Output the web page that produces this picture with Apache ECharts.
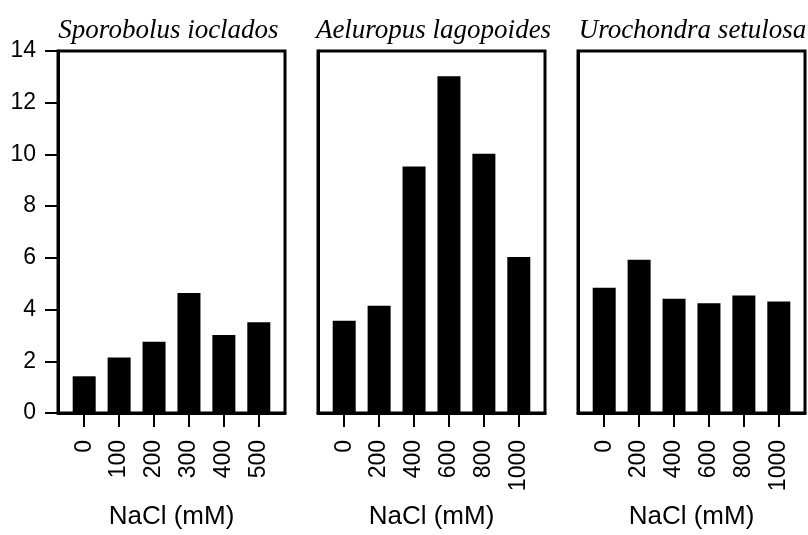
<!DOCTYPE html>
<html><head><meta charset="utf-8">
<script src="https://cdn.jsdelivr.net/npm/echarts@6/dist/echarts.min.js"></script>
<style>html,body{margin:0;padding:0;background:#fff}#c{width:808px;height:535px}</style>
</head><body><div id="c"></div>
<script>
const titles = ['Sporobolus ioclados', 'Aeluropus lagopoides', 'Urochondra setulosa'];
const cats1 = ['0', '100', '200', '300', '400', '500'];
const cats2 = ['0', '200', '400', '600', '800', '1000'];
const cats3 = ['0', '200', '400', '600', '800', '1000'];
const vals1 = [1.42, 2.15, 2.76, 4.64, 3.02, 3.51];
const vals2 = [3.57, 4.15, 9.53, 13.02, 10.03, 6.03];
const vals3 = [4.84, 5.93, 4.42, 4.24, 4.54, 4.31];
const yTicks = [0, 2, 4, 6, 8, 10, 12, 14];
const xName = 'NaCl (mM)';

const cats = [cats1, cats2, cats3];
const vals = [vals1, vals2, vals3];
const lefts = [58, 318, 578];
const titleShift = [-8, -3, -4];
const W = 227;
const chart = echarts.init(document.getElementById('c'));
const grid = [], xAxis = [], yAxis = [], series = [], title = [];
for (let k = 0; k < 3; k++) {
  grid.push({left: lefts[k], width: W, top: 51, height: 364, show: true,
    borderColor: '#000', borderWidth: 3});
  title.push({text: titles[k], left: lefts[k] + W / 2 + titleShift[k], top: 12, textAlign: 'center',
    textStyle: {fontFamily: 'Liberation Serif', fontStyle: 'italic', fontWeight: 'normal', fontSize: 27, color: '#000'}});
  const c = cats[k];
  xAxis.push({type: 'value', gridIndex: k, min: -0.75, max: 5.75,
    splitLine: {show: false},
    axisLine: {show: true, onZero: false, lineStyle: {color: '#000', width: 3}},
    axisTick: {show: true, length: 14, lineStyle: {color: '#000', width: 2}, customValues: [0,1,2,3,4,5]},
    axisLabel: {show: true, rotate: 90, margin: 8, padding: [0, 19, 0, 0],
      fontFamily: 'Liberation Sans', fontSize: 23, color: '#000',
      customValues: [0,1,2,3,4,5], formatter: v => c[Math.round(v)]},
    name: xName, nameLocation: 'middle', nameGap: 91,
    nameTextStyle: {fontFamily: 'Liberation Sans', fontSize: 26, color: '#000'}});
  yAxis.push({type: 'value', gridIndex: k, min: 0, max: 14, interval: 2,
    splitLine: {show: false},
    axisLine: {show: true, onZero: false, lineStyle: {color: '#000', width: 3}},
    axisTick: {show: k === 0, length: 13, lineStyle: {color: '#000', width: 2}},
    axisLabel: {show: k === 0, margin: 8, padding: [0, 14, 0, 0],
      fontFamily: 'Liberation Sans', fontSize: 23, color: '#000',
      formatter: v => yTicks.includes(v) ? String(v) : ''}});
  series.push({type: 'bar', xAxisIndex: k, yAxisIndex: k, barWidth: 23,
    itemStyle: {color: '#000'},
    data: vals[k].map((v, i) => [i, v])});
}
chart.setOption({animation: false, title, grid, xAxis, yAxis, series});
</script></body></html>
